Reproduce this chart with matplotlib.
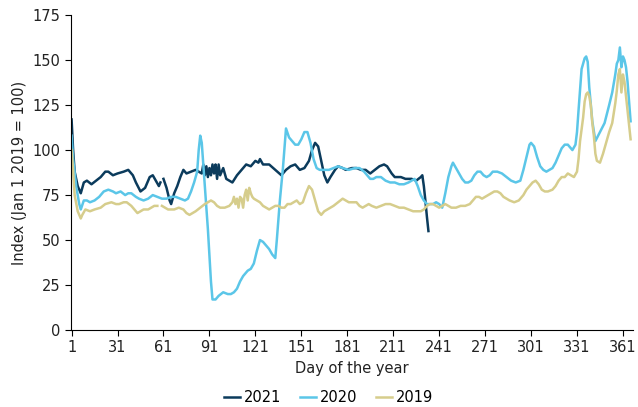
import matplotlib.pyplot as plt
import numpy as np

nan = np.nan

# values (day of year, index)
days_2021 = [1, 2, 3, 5, 7, 9, 11, 14, 17, 20, 23, 25, 28, 31, 35, 38, 41, 43, 46, 49, 52, 54, 56, 58, 59, 60,
             61, 63, 65, 66, 68, 70, 72, 74, 76, 79, 82, 84, 86, 87, 88, 89, 90, 91, 92, 93, 94, 95, 96, 97, 98,
             100, 102, 104, 106, 109, 112, 115, 118, 121, 123, 124, 126, 130, 134, 138, 141, 144, 147, 150, 153,
             156, 158, 160, 162, 164, 166, 168, 170, 173, 175, 178, 180, 184, 187, 190, 193, 196, 199, 202, 205,
             207, 210, 212, 216, 219, 223, 226, 229, 230, 231, 232, 233, 234]
vals_2021 = [117, 100, 88, 80, 76, 82, 83, 81, 83, 85, 88, 88, 86, 87, 88, 89, 86, 82, 77, 79, 85, 86, 83, 80, 82, nan,
             84, 79, 72, 70, 76, 80, 85, 89, 87, 88, 89, 88, 87, 92, 86, 91, 85, 90, 86, 92, 87, 92, 84, 92, 86,
             90, 84, 83, 82, 86, 89, 92, 91, 94, 93, 95, 92, 92, 89, 86, 89, 91, 92, 89, 90,
             94, 100, 104, 102, 94, 86, 82, 85, 89, 91, 90, 89, 90, 90, 89, 89, 87, 89, 91, 92,
             91, 87, 85, 85, 84, 84, 83, 85, 86, 80, 72, 63, 55]

days_2020 = [1, 2, 4, 6, 7, 9, 11, 13, 16, 19, 22, 25, 28, 30, 33, 36, 38, 40, 43, 45, 48, 51, 54, 57, 60, 63, 66,
             69, 72, 75, 77, 79, 81, 83, 84, 85, 86, 88, 90, 92, 93, 95, 97, 100, 103, 105, 107, 109, 111, 113,
             116, 118, 120, 122, 124, 126, 128, 130, 132, 134, 135, 137, 139, 141, 143, 145, 147, 149, 151, 153,
             155, 157, 159, 161, 163, 166, 169, 172, 175, 178, 182, 186, 189, 192, 194, 196, 198, 200, 203, 206,
             209, 212, 215, 218, 221, 223, 225, 227, 229, 231, 233, 235, 237, 239, 241, 243, 245, 247, 249, 250,
             252, 254, 256, 258, 260, 262, 264, 266, 268, 270, 272, 274, 276, 279, 282, 285, 288, 291, 294, 296,
             298, 300, 301, 303, 305, 307, 309, 311, 313, 315, 317, 319, 321, 323, 325, 327, 328, 330, 331, 332,
             334, 336, 337, 338, 339, 341, 343, 346, 349, 352, 354, 356, 357, 358, 359, 360, 361, 362, 363, 364, 366]
vals_2020 = [108, 95, 80, 70, 67, 72, 72, 71, 72, 74, 77, 78, 77, 76, 77, 75, 76, 76, 74, 73, 72, 73, 75, 74, 73, 73, 74,
             74, 73, 72, 73, 77, 82, 88, 100, 108, 104, 80, 56, 27, 17, 17, 19, 21, 20, 20, 21, 23, 27, 30,
             33, 34, 37, 44, 50, 49, 47, 45, 42, 40, 50, 72, 90, 112, 107, 105, 103, 103, 106, 110,
             110, 104, 95, 90, 89, 89, 89, 90, 91, 90, 89, 90, 90, 88, 86, 84, 84, 85, 85, 83,
             82, 82, 81, 81, 82, 83, 84, 80, 75, 72, 70, 70, 70, 71, 70, 68, 76, 85, 91, 93,
             90, 87, 84, 82, 82, 83, 86, 88, 88, 86, 85, 86, 88, 88, 87, 85, 83, 82, 83, 89,
             96, 103, 104, 102, 96, 91, 89, 88, 89, 90, 93, 97, 101, 103, 103, 101, 100, 103, 110, 122,
             145, 151, 152, 149, 135, 116, 105, 110, 115, 125, 132, 142, 148, 150, 157, 146, 152, 150, 146, 138, 116]

days_2019 = [1, 2, 3, 5, 7, 8, 10, 13, 16, 20, 23, 27, 30, 32, 35, 37, 40, 42, 44, 46, 48, 51, 53, 55, 57, 58,
             60, 62, 64, 66, 68, 71, 74, 76, 78, 80, 82, 85, 88, 90, 92, 94, 96, 98, 101, 104, 106, 107, 108, 109,
             110, 111, 112, 113, 114, 115, 116, 117, 118, 119, 120, 122, 124, 126, 128, 130, 132, 134, 136, 138,
             140, 142, 144, 146, 148, 150, 152, 154, 156, 158, 160, 162, 164, 166, 168, 170, 172, 175, 178, 180,
             182, 184, 187, 189, 191, 193, 195, 197, 200, 203, 206, 209, 212, 215, 218, 221, 224, 227, 229, 231,
             233, 235, 237, 239, 241, 243, 245, 247, 249, 252, 255, 258, 261, 263, 265, 267, 269, 271, 273, 275,
             277, 279, 281, 283, 285, 287, 290, 293, 296, 298, 300, 302, 304, 306, 308, 310, 312, 315, 317, 319,
             321, 323, 325, 327, 329, 331, 332, 333, 335, 336, 337, 338, 339, 340, 341, 342, 343, 344, 346, 348,
             350, 352, 354, 356, 357, 358, 359, 360, 361, 362, 364, 366]
vals_2019 = [100, 88, 75, 66, 62, 64, 67, 66, 67, 68, 70, 71, 70, 70, 71, 71, 69, 67, 65, 66, 67, 67, 68, 69, 69, nan,
             69, 68, 67, 67, 67, 68, 67, 65, 64, 65, 66, 68, 70, 71, 72, 71, 69, 68, 68, 69, 71, 74, 70, 73,
             68, 74, 73, 68, 75, 78, 72, 79, 76, 74, 73, 72, 71, 69, 68, 67, 68, 69, 69, 68,
             68, 70, 70, 71, 72, 70, 71, 76, 80, 78, 72, 66, 64, 66, 67, 68, 69, 71, 73, 72,
             71, 71, 71, 69, 68, 69, 70, 69, 68, 69, 70, 70, 69, 68, 68, 67, 66, 66, 66, 67,
             69, 70, 70, 69, 68, 69, 70, 69, 68, 68, 69, 69, 70, 72, 74, 74, 73, 74, 75, 76,
             77, 77, 76, 74, 73, 72, 71, 72, 75, 78, 80, 82, 83, 81, 78, 77, 77, 78, 80, 83,
             85, 85, 87, 86, 85, 88, 95, 105, 118, 127, 131, 132, 130, 125, 115, 108, 98, 94, 93, 98,
             104, 110, 115, 126, 133, 142, 145, 132, 142, 138, 122, 106]

xticks = list(range(1, 362, 30))
yticks = [0, 25, 50, 75, 100, 125, 150, 175]

plt.rcParams['font.family'] = 'DejaVu Sans'
plt.rcParams['font.size'] = 10.5

fig = plt.figure(figsize=(6.38, 4.07), dpi=100)
ax = fig.add_axes([0.111, 0.189, 0.881, 0.774])

ax.plot(days_2021, vals_2021, color='#0b3b5c', lw=1.8, label='2021')
ax.plot(days_2020, vals_2020, color='#5bc6e8', lw=1.8, label='2020')
ax.plot(days_2019, vals_2019, color='#d6cd8c', lw=1.8, label='2019')

ax.set_xlim(0.5, 367.5)
ax.set_ylim(0, 175)
ax.set_xticks(xticks)
ax.set_yticks(yticks)
ax.spines['top'].set_visible(False)
ax.spines['right'].set_visible(False)
ax.tick_params(direction='out', length=4, color='black', labelcolor='#222222')
ax.set_xlabel('Day of the year', color='#222222')
ax.set_ylabel('Index (Jan 1 2019 = 100)', color='#222222')

fig.legend(loc='lower center', bbox_to_anchor=(0.515, -0.028), ncol=3, frameon=False,
           handlelength=1.1, handletextpad=0.25, columnspacing=1.3)

fig.savefig('out.png')
